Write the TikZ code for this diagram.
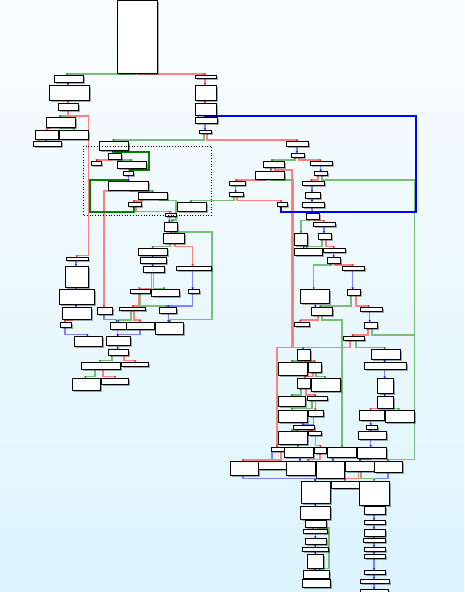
\documentclass[tikz,border=0pt]{standalone}
\usepackage{xcolor}
\usepackage{tikz}
\usetikzlibrary{arrows.meta, shadows, backgrounds}
\definecolor{cfgreen}{HTML}{78BE78}
\definecolor{cfred}{HTML}{FF8080}
\definecolor{cfblue}{HTML}{8080FF}
\definecolor{loopblue}{HTML}{0000FF}
\definecolor{loopgreen}{HTML}{008000}
\definecolor{bgtop}{HTML}{FAFDFF}
\definecolor{bgbottom}{HTML}{DCF4FE}

\begin{document}
\begin{tikzpicture}[x=1pt, y=-1pt,
  blk/.style={draw=black, fill=white, line width=0.8pt, inner sep=0pt, outer sep=0pt,
    drop shadow={shadow xshift=1.8pt, shadow yshift=-1.8pt, fill=black, opacity=0.33}},
  ge/.style={draw=cfgreen, line width=1.3pt, -{Triangle[length=1.5pt, width=2.6pt, color=loopgreen]}},
  re/.style={draw=cfred, line width=1.3pt, -{Triangle[length=1.5pt, width=2.6pt, color=red]}},
  be/.style={draw=cfblue, line width=1.3pt, -{Triangle[length=1.5pt, width=2.6pt, color=blue]}},
  gg/.style={draw=loopgreen, line width=1.8pt, -{Triangle[length=1.8pt, width=3.2pt]}},
  bb/.style={draw=loopblue, line width=1.8pt, -{Triangle[length=1.8pt, width=3.2pt]}}]
  \useasboundingbox (0,0) rectangle (464,592);

  % blocks: name / left / top / right / bottom
  \foreach \n/\xa/\ya/\xb/\yb in {
    en/117/0.5/157/73,
    a1/54/75/83/82, a2/49/85/89/100, a3/58/103/78/110, a4/46/117/75/127,
    a5/35/130/58/139, a6/59/130/88/139, a7/33/141/61/146,
    b1/195/75/216/78, b2/195/85/216/100, b3/195/103/216/115, b4/195/117/217/123,
    b5/199/130/211/133,
    c1/99/141/128/150, c2/108/153/121/159, c3/91/161/101/165, c4/117/161/146/168,
    c5/123/171/133/175, c6/108/181/148/190, c7/138/192/167/199, c8/128/202/141/206,
    c9/177/202/206/211, p0/165/213/176/216,
    d1/286/141/308/146, d2/291/153/304/157, d3/263/161/284/167, d4/310/161/332/165,
    d5/255/171/284/179, d6/314/171/327/175, d7/302/181/324/185, d8/229/181/245/185,
    d9/229/192/243/196, d10/305/192/320/198, d11/302/202/324/207, d12/277/202/287/206,
    e1/306/213/319/219, e2/294/233/307/245, e3/313/222/335/226, e4/318/233/331/239,
    e5/294/248/322/255, e6/323/248/345/252, e7/327/257/340/263, e8/342/266/364/270,
    e9/300/289/329/303, e10/347/289/360/295, e11/311/307/332/315, e12/360/307/382/311,
    e13/294/322/309/326, e14/364/322/377/328, e15/343/336/364/340,
    f1/297/349/310/360, f2/278/362/307/375, f3/308/362/321/372, f4/297/378/310/388,
    f5/311/378/340/391,
    g1/278/396/305/406, g2/307/396/327/400, g3/278/410/307/422, g4/308/410/323/416,
    g5/293/425/314/429, g6/278/431/307/444, g7/308/431/321/435,
    h1/271/447/284/451, h2/284/447/313/457, h3/314/447/326/453, h4/327/447/356/457,
    h5/357/447/386/458,
    m1/371/349/400/359, m2/364/362/406/369, m3/377/378/393/393, m4/377/396/393/408,
    m5/359/410/384/420, m6/385/410/414/422, m7/366/425/377/429, m8/358/431/386/439,
    i1/230/461/258/475, i2/258/461/286/469, i3/286/461/315/475, i4/316/461/344/478,
    i5/345/461/374/471, i6/374/461/402/472,
    j1/301/481/330/503, j2/331/481/359/488, j3/359/481/389/505,
    k1/300/506/330/519, k2/305/520/326/527, k3/303/529/327/533, k4/305/538/326/544,
    k5/302/547/328/551, k6/307/554/323/568, k7/303/570/329/578, k8/302/579/330/587,
    l1/364/506/385/514, l2/364/520/385/524, l3/364/529/385/536, l4/363/538/385/542,
    l5/364/547/385/551, l6/364/554/385/558, l7/364/570/385/574, l8/360/579/389/583,
    l9/360/589/388/598,
    n1/66/257/88/260, n2/65/266/88/287, n3/59/289/94/304, n4/62/307/91/319,
    n5/60/322/71/327, n6/97/307/112/314, n7/74/336/102/346, n8/106/336/130/345,
    n9/108/349/128/355, n10/81/362/120/369, n11/121/362/148/366, n12/72/378/100/390,
    n13/101/378/128/384,
    o1/110/322/126/329, o2/126/322/154/329, o3/119/307/145/310, o4/159/307/176/313,
    o5/155/322/183/334,
    p1/164/222/177/231, p2/163/233/184/243, p3/138/248/167/255, p4/140/257/166/263,
    p5/143/266/164/272, p7/176/266/211/270, p8/130/289/150/293, p9/151/289/179/296,
    p10/188/289/199/293} {
    \node[blk, minimum width={(\xb-\xa)*1pt}, minimum height={(\yb-\ya)*1pt}]
      (\n) at ({(\xa+\xb)/2},{(\ya+\yb)/2}) {};
  }

  % loop region
  \draw[dotted, line width=0.7pt] (83.3,146) rectangle (211.3,215.3);

  \begin{scope}[on background layer]
    \fill[top color=bgtop, bottom color=bgbottom] (0,0) rectangle (464,592);

    % straight edges: from / to / x
    \foreach \a/\b/\x in {a1/a2/68, a5/a7/46, b4/b5/205, c1/c2/113, c5/c6/128.7,
      p0/p1/169.3, d8/d9/235.7, d1/d2/297, d4/d6/320.7, d7/d10/312, d10/d11/312,
      d11/e1/312, e3/e4/324, e2/e5/303.7, e6/e7/333.7, e8/e10/352.7, e9/e11/315.3,
      e12/e14/369.7, m1/m2/384.7, m2/m3/384.7, m3/m4/384.7, m5/m7/370.7,
      m7/m8/370.7, m8/h5/370.7, n1/n2/76, n2/n3/76, n3/n4/76, n8/n9/117.7,
      p3/p4/152.7, p4/p5/152.7, p7/p10/192.7, o4/o5/168.3, h1/i2/272, h2/i3/300,
      h4/i4/333, j1/k1/315.3, k1/k2/315.3, k3/k4/315.3, k4/k5/315.3, k5/k6/315.3,
      k6/k7/315.3, k7/k8/315.3, j3/l1/374, l1/l2/374, l2/l3/374, l3/l4/374,
      l4/l5/374, l5/l6/374, l6/l7/374, l7/l8/374, l8/l9/374}
      \draw[be] (\x,0 |- \a.south) -- (\x,0 |- \b.north);
    \foreach \a/\b/\x in {a2/a3/68, b1/b2/205, b2/b3/205, c4/c5/129.3, p1/p2/171,
      o1/n8/117.7, k2/k3/313, g2/g4/315.3}
      \draw[re] (\x,0 |- \a.south) -- (\x,0 |- \b.north);
    \foreach \a/\b/\x in {d3/d5/271, g6/h2/298}
      \draw[ge] (\x,0 |- \a.south) -- (\x,0 |- \b.north);

    % jump edges: from / x out / y of run / x in / to
    \foreach \a/\xs/\ym/\xt/\b in {g4/313.7/424.3/302.7/g5, n5/65/334.7/87.3/n7,
      n6/104/319.3/116.7/o1, o2/140/334.7/117.7/n8, p10/192.7/306/168.3/o4,
      i1/243/478.7/315.3/j1, i6/388/478.7/315.3/j1, h5/371/459.5/360/i5}
      \draw[be] (\xs,0 |- \a.south) -- (\xs,\ym) -- (\xt,\ym) -- (\xt,0 |- \b.north);
    \foreach \a/\xs/\ym/\xt/\b in {en/138/74/205/b1, a4/50/128.7/47/a5,
      c2/110/160/96.7/c3, c6/110/191/104/n6, c7/142/201/134/c8, c8/136/211.7/170/p0,
      d9/237/200.7/281/d12, b5/207/140/297/d1, d2/299/160/320.3/d4,
      d5/265/180/236/d8, d6/318/180/311.3/d7, e1/314/220.7/323.7/e3,
      e4/326/246.7/333.7/e6, e7/335/265/352.7/e8, e10/356/306/368.7/e12,
      e11/318/320/300.3/e13, e14/368/335/352.7/e15, e15/350/347.5/277/h1,
      f1/305/361/314.7/f3, f3/313/376.7/305/f4, f4/306/395/315.3/g2,
      g5/308/430.7/312/g7, g7/315.3/445.3/320.3/h3, m4/382/408.7/370.7/m5,
      h1/281/460/243/i1, h3/320/459.5/308/i3, i5/358.7/478.7/345/j2,
      n4/72/320.7/65/n5, n9/124/360.7/135/n11, n10/103/376.7/115/n13,
      p2/175/246.7/192.7/p7, p5/151.7/288.3/139.3/p8, p8/139/306/133/o3,
      o3/134/320/140/o2}
      \draw[re] (\xs,0 |- \a.south) -- (\xs,\ym) -- (\xt,\ym) -- (\xt,0 |- \b.north);
    \foreach \a/\xs/\ym/\xt/\b in {en/135/74/67/a1, a3/68/116/60/a4,
      a4/60/128.7/74/a6, b5/204/140/113.3/c1, c2/118/160/131/c4,
      c6/130/191/152.7/c7, d9/234/200.7/191/c9, d2/295/160/272/d3,
      e1/309/220.7/301/e2, e4/322/246.7/306.7/e5, e7/331/265/313.7/e9,
      e10/351/306/320.3/e11, e15/356/347.5/384.7/m1, f1/301/361/292/f2,
      f3/316/376.7/325/f5, f4/301/395/292/g1, g2/312/408.7/292/g3,
      g5/298/430.7/292/g6, m4/388/408.7/398.7/m6, i5/361/478.7/374/j3,
      n9/112/360.7/100/n10, n10/95/376.7/85.3/n12, p2/170/246.7/152.7/p3,
      p5/153.3/288.3/164.3/p9, p8/140/306/166.7/o4, o3/131/320/118.5/o1}
      \draw[ge] (\xs,0 |- \a.south) -- (\xs,\ym) -- (\xt,\ym) -- (\xt,0 |- \b.north);

    % long routed edges
    \draw[re] (68,0 |- a3.south) -- (68,116) -- (88.7,116) -- (88.7,255.3)
      -- (76.7,255.3) -- (76.7,0 |- n1.north);
    \draw[re] (275,0 |- d3.south) -- (275,170) -- (292,170) -- (292,347.5)
      -- (277,347.5) -- (277,0 |- h1.north);
    \draw[ge] (272,0 |- d5.south) -- (272,180) -- (293.5,180) -- (293.5,347.5)
      -- (303,347.5) -- (303,0 |- f1.north);
    \draw[ge] (322,0 |- d6.south) -- (322,180) -- (414.5,180) -- (414.5,459.5)
      -- (388,459.5) -- (388,0 |- i6.north);
    \draw[ge] (372,0 |- e14.south) -- (372,335) -- (414.5,335) -- (414.5,459.5)
      -- (388,459.5) -- (388,0 |- i6.north);
    \draw[ge] (322,0 |- e11.south) -- (322,320) -- (342,320) -- (342,0 |- h4.north);
    \draw[ge] (318,0 |- k2.south) -- (318,528) -- (329,528) -- (329,568.7)
      -- (320,568.7) -- (320,0 |- k7.north);
    \draw[ge] (160,0 |- c7.south) -- (160,200.7) -- (176,200.7) -- (176,220)
      -- (172,220) -- (172,0 |- p1.north);
    \draw[ge] (174,0 |- p1.south) -- (174,232) -- (212,232) -- (212,319.3)
      -- (170,319.3) -- (170,0 |- o5.north);
    \draw[gg] (115,0 |- c1.south) -- (115,151.7) -- (149,151.7) -- (149,170)
      -- (130,170) -- (130,0 |- c5.north);
    \draw[gg] (134,0 |- c8.south) -- (134,211.7) -- (90,211.7) -- (90,180)
      -- (127,180) -- (127,0 |- c6.north);
    \draw[bb] (281,0 |- d12.south) -- (281,211.7) -- (416,211.7) -- (416,116)
      -- (205,116) -- (205,0 |- b4.north);
  \end{scope}
\end{tikzpicture}
\end{document}
